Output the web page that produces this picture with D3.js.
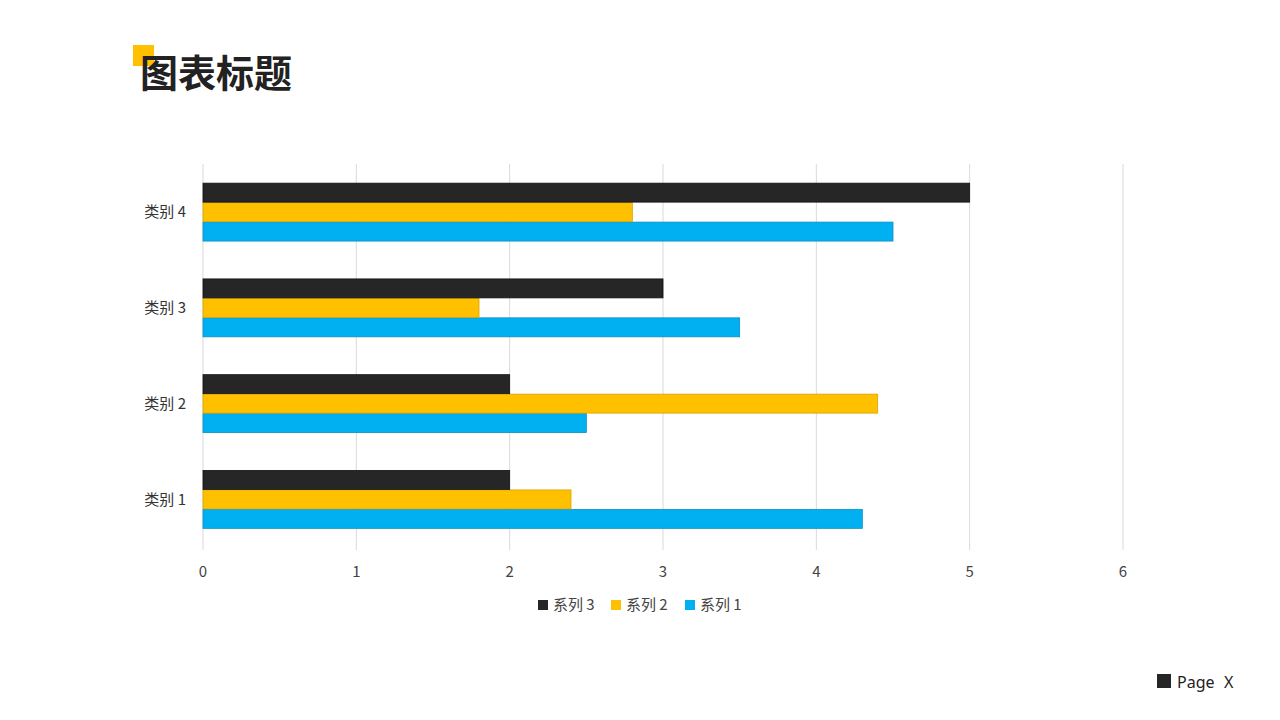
<!DOCTYPE html>
<html><head><meta charset="utf-8">
<script src="https://cdn.jsdelivr.net/npm/d3@7"></script>
<style>body{margin:0;background:#fff;font-family:"Noto Sans CJK SC","Noto Sans",sans-serif;}</style>
</head><body><svg id="c" width="1280" height="720"></svg>
<script>
const categories = ["类别 1","类别 2","类别 3","类别 4"];
const seriesNames = ["系列 1","系列 2","系列 3"];
const series1 = [4.3, 2.5, 3.5, 4.5];
const series2 = [2.4, 4.4, 1.8, 2.8];
const series3 = [2, 2, 3, 5];
const xTicks = [0,1,2,3,4,5,6];
const colors = ["#00b0f0","#ffc000","#262626"];
const strokes = ["#0a8fc4","#d9a300","#111"];
const values = [series1, series2, series3];

const svg = d3.select("#c");
svg.append("rect").attr("x",133).attr("y",45).attr("width",21).attr("height",21).attr("fill","#ffc000");
svg.append("text").attr("x",140).attr("y",87).attr("font-size",38).attr("font-weight","bold").attr("fill","#222").text("图表标题");

const x = d3.scaleLinear().domain([0,6]).range([203,1123]);
const y = d3.scaleBand().domain(categories.slice().reverse()).range([164,548]).paddingInner(0.39).paddingOuter(0.2);
const inner = d3.scaleBand().domain([2,1,0]).range([0,y.bandwidth()]);

svg.append("g").selectAll("line").data(xTicks).join("line")
 .attr("x1",d=>x(d)).attr("x2",d=>x(d)).attr("y1",164).attr("y2",550).attr("stroke","#d9d9d9");
svg.append("g").selectAll("text").data(xTicks).join("text")
 .attr("x",d=>x(d)).attr("y",577).attr("text-anchor","middle").attr("font-size",15).attr("fill","#444").text(d=>d);
svg.append("g").selectAll("text").data(categories).join("text")
 .attr("x",186).attr("y",d=>y(d)+y.bandwidth()/2+5).attr("text-anchor","end").attr("font-size",15).attr("fill","#333").text(d=>d);

values.forEach((vals,s)=>{
 svg.append("g").selectAll("rect").data(vals).join("rect")
  .attr("x",x(0)).attr("y",(d,i)=>y(categories[i])+inner(s))
  .attr("width",d=>x(d)-x(0)).attr("height",inner.bandwidth()-0.5)
  .attr("fill",colors[s]).attr("stroke",strokes[s]).attr("stroke-width",0.8);
});

const leg = [2,1,0];
const lx = [538,611,685];
leg.forEach((s,k)=>{
 svg.append("rect").attr("x",lx[k]).attr("y",600).attr("width",10).attr("height",10).attr("fill",colors[s]);
 svg.append("text").attr("x",lx[k]+15).attr("y",610).attr("font-size",15).attr("fill","#444").text(seriesNames[s]);
});

svg.append("rect").attr("x",1157).attr("y",674).attr("width",14).attr("height",14).attr("fill","#262626");
svg.append("text").attr("x",1177).attr("y",688).attr("font-size",16).attr("fill","#222").attr("font-family","Noto Sans").text("Page");
svg.append("text").attr("x",1224).attr("y",688).attr("font-size",16).attr("fill","#222").attr("font-family","Noto Sans").text("X");
</script></body></html>
